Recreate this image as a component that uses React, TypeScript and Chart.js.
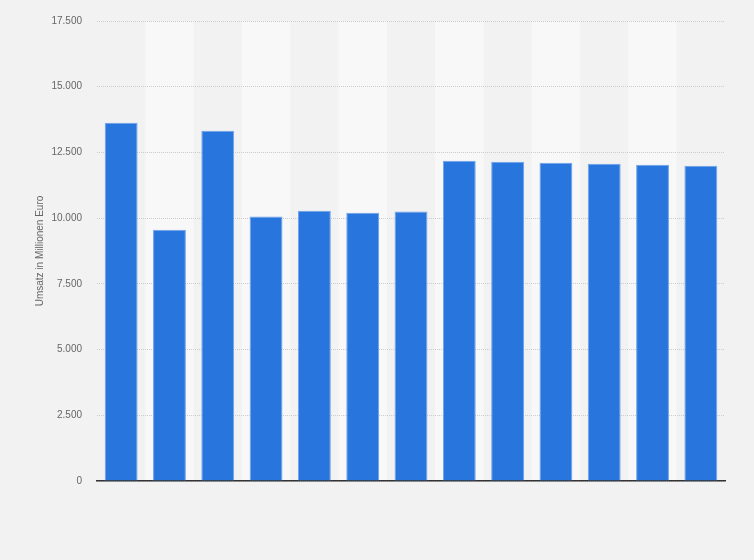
import React, { useEffect, useRef } from "react";
import { Chart, registerables } from "chart.js";

Chart.register(...registerables);

const categories: string[] = ["1", "2", "3", "4", "5", "6", "7", "8", "9", "10", "11", "12", "13"];
const revenue: number[] = [13630, 9560, 13326, 10061, 10277, 10201, 10250, 12187, 12149, 12111, 12073, 12035, 11997];
const yTickMin = 0;
const yTickMax = 17500;
const yTickStep = 2500;
const yAxisTitle = "Umsatz in Millionen Euro";

const formatDe = (v: number): string =>
  String(Math.round(v)).replace(/\B(?=(\d{3})+(?!\d))/g, ".");

const PAGE_BG = "#f2f2f2";
const BAND_BG = "#f8f8f8";

const bgPlugin = {
  id: "bgBands",
  beforeDraw(chart: any) {
    const { ctx, chartArea, scales } = chart;
    ctx.save();
    ctx.fillStyle = PAGE_BG;
    ctx.fillRect(0, 0, chart.width, chart.height);
    const x = scales.x;
    const n = categories.length;
    const w = (chartArea.right - chartArea.left) / n;
    ctx.fillStyle = BAND_BG;
    for (let i = 1; i < n; i += 2) {
      const cx = x.getPixelForValue(i);
      ctx.fillRect(cx - w / 2, chartArea.top, w, chartArea.bottom - chartArea.top);
    }
    ctx.restore();
  },
};

export default function App() {
  const ref = useRef<HTMLCanvasElement | null>(null);

  useEffect(() => {
    document.body.style.margin = "0";
    document.body.style.background = PAGE_BG;
    if (!ref.current) return;
    const chart = new Chart(ref.current, {
      type: "bar",
      data: {
        labels: categories,
        datasets: [
          {
            data: revenue,
            backgroundColor: "#2876dd",
            borderColor: "#6ea2ea",
            borderWidth: 1,
            barPercentage: 0.68,
            categoryPercentage: 1,
          },
        ],
      },
      options: {
        animation: false,
        responsive: false,
        layout: { padding: { top: 20, right: 29, left: 30, bottom: 0 } },
        plugins: {
          legend: { display: false },
          tooltip: { enabled: false },
        },
        scales: {
          x: {
            grid: { display: false, drawTicks: false },
            border: { display: true, color: "#333333", width: 1.5 },
            ticks: { display: false },
            afterFit: (scale: any) => {
              scale.height = 79;
            },
          },
          y: {
            min: yTickMin,
            max: yTickMax,
            grid: { color: "#cccccc", lineWidth: 1, drawTicks: false },
            border: { display: false, dash: [1, 1] },
            ticks: {
              stepSize: yTickStep,
              padding: 15,
              color: "#666666",
              font: { family: "'Liberation Sans', Arial, sans-serif", size: 10 },
              callback: (v: any) => formatDe(Number(v)),
            },
            title: {
              display: true,
              text: yAxisTitle,
              color: "#666666",
              padding: { top: 4, bottom: 0 },
              font: { family: "'Liberation Sans', Arial, sans-serif", size: 10 },
            },
            afterFit: (scale: any) => {
              scale.width = 67;
            },
          },
        },
      },
      plugins: [bgPlugin],
    });
    return () => chart.destroy();
  }, []);

  return (
    <div style={{ width: 754, height: 560, background: PAGE_BG }}>
      <canvas ref={ref} width={754} height={560} style={{ display: "block" }} />
    </div>
  );
}
